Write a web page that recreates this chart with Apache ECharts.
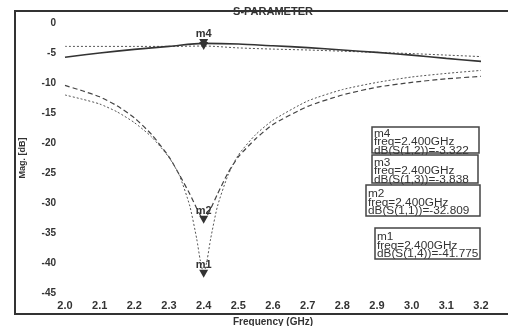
<!DOCTYPE html>
<html>
<head>
<meta charset="utf-8">
<script src="https://cdn.jsdelivr.net/npm/echarts@6/dist/echarts.min.js"></script>
<style>html,body{margin:0;padding:0;background:#fff;}#c{width:508px;height:326px;}</style>
</head>
<body>
<div id="c"></div>
<script>
// ---- data ----
var freqTop = [2.0, 2.1, 2.2, 2.3, 2.4, 2.5, 2.6, 2.7, 2.8, 2.9, 3.0, 3.1, 3.2];
var s12 = [-5.7, -5.0, -4.4, -3.9, -3.4, -3.5, -3.8, -4.1, -4.5, -4.9, -5.35, -5.9, -6.4];
var s13 = [-3.9, -3.9, -3.9, -3.9, -3.84, -4.15, -4.35, -4.5, -4.7, -4.9, -5.1, -5.35, -5.6];

var freqDip = [2.0, 2.05, 2.1, 2.15, 2.2, 2.25, 2.3, 2.33, 2.36, 2.38, 2.39, 2.4, 2.41, 2.42, 2.44, 2.47, 2.5, 2.55, 2.6, 2.7, 2.8, 2.9, 3.0, 3.1, 3.2];
var s11 = [-10.4, -11.3, -12.3, -13.8, -15.8, -18.6, -22.3, -25.3, -28.5, -30.9, -32.0, -32.8, -32.1, -31.0, -28.5, -25.0, -22.3, -19.3, -16.9, -13.9, -12.0, -10.7, -9.9, -9.3, -8.9];
var s14 = [-12.0, -12.7, -13.5, -14.8, -16.6, -19.0, -22.4, -25.4, -30.5, -36.0, -39.5, -41.775, -39.5, -36.0, -30.5, -25.4, -22.0, -18.6, -16.2, -13.0, -11.1, -9.9, -9.0, -8.4, -7.9];

var markerNames = ['m4', 'm3', 'm2', 'm1'];
var markerParams = ['S(1,2)', 'S(1,3)', 'S(1,1)', 'S(1,4)'];
var markerValues = [-3.322, -3.838, -32.809, -41.775];
var markerFreq = 2.4;

var chartTitle = 'S-PARAMETER';
var xName = 'Frequency (GHz)';
var yName = 'Mag. [dB]';

function pairs(xs, ys) { return xs.map(function (x, i) { return [x, ys[i]]; }); }

function mark(idx, showLabel) {
  return {
    symbol: 'triangle', symbolRotate: 180, symbolSize: [9, 8], symbolOffset: [0, 0],
    itemStyle: { color: '#333' },
    label: { show: showLabel, position: 'top', distance: -1, formatter: '{b}', color: '#333', fontSize: 11, fontWeight: 'bold', fontFamily: 'Liberation Sans' },
    data: [{ name: markerNames[idx], coord: [markerFreq, markerValues[idx]] }]
  };
}

// marker readout boxes (layout only)
var boxRects = [[372, 127, 107, 26], [372, 155, 106, 28], [366, 185, 114, 31], [375, 228, 105, 31]];
var boxGraphics = markerNames.map(function (n, i) {
  var r = boxRects[i];
  var txt = n + '\nfreq=' + markerFreq.toFixed(3) + 'GHz\ndB(' + markerParams[i] + ')=' + markerValues[i];
  return {
    type: 'group', x: r[0], y: r[1], z: 20,
    children: [
      { type: 'rect', shape: { x: 0, y: 0, width: r[2], height: r[3] }, style: { fill: '#fff', stroke: '#444', lineWidth: 1.5 } },
      { type: 'text', x: 2, y: (r[3] - 25.5) / 2 + 2.5, scaleX: 1.18,
        style: { text: txt, fill: '#333', font: '10px "Liberation Sans"', lineHeight: 8.5, verticalAlign: 'top', align: 'left' } }
    ]
  };
});

var chart = echarts.init(document.getElementById('c'));
chart.setOption({
  animation: false,
  backgroundColor: '#fff',
  graphic: [
    { type: 'rect', shape: { x: 15, y: 11, width: 520, height: 303 }, style: { fill: 'none', stroke: '#333', lineWidth: 2 }, z: 0 },
    { type: 'text', x: 273, y: 12, style: { text: chartTitle, fill: '#333', font: 'bold 11px "Liberation Sans"', align: 'center', verticalAlign: 'middle' }, z: 10 }
  ].concat(boxGraphics),
  grid: { left: 65, right: 27, top: 23, bottom: 33, containLabel: false, outerBoundsMode: 'none' },
  xAxis: {
    type: 'value', min: 2.0, max: 3.2, interval: 0.1,
    name: xName, nameLocation: 'middle', nameGap: 24,
    nameTextStyle: { fontSize: 10, fontWeight: 'bold', color: '#333', fontFamily: 'Liberation Sans' },
    axisLine: { show: false }, axisTick: { show: false }, splitLine: { show: false },
    axisLabel: { margin: 7, fontSize: 11, fontWeight: 'bold', color: '#333', fontFamily: 'Liberation Sans', formatter: function (v) { return v.toFixed(1); } }
  },
  yAxis: {
    type: 'value', min: -45, max: 0, interval: 5,
    name: yName, nameLocation: 'middle', nameGap: 38, nameRotate: 90,
    nameTextStyle: { fontSize: 9, fontWeight: 'bold', color: '#333', fontFamily: 'Liberation Sans' },
    axisLine: { show: false }, axisTick: { show: false }, splitLine: { show: false },
    axisLabel: { margin: 9, fontSize: 10, fontWeight: 'bold', color: '#333', fontFamily: 'Liberation Sans' }
  },
  series: [
    { name: 'S(1,3)', type: 'line', smooth: 0.3, symbol: 'none', data: pairs(freqTop, s13), lineStyle: { color: '#555', width: 1, type: [2, 2] }, markPoint: mark(1, false) },
    { name: 'S(1,2)', type: 'line', smooth: 0.3, symbol: 'none', data: pairs(freqTop, s12), lineStyle: { color: '#333', width: 1.6, type: 'solid' }, markPoint: mark(0, true) },
    { name: 'S(1,1)', type: 'line', smooth: 0.2, symbol: 'none', data: pairs(freqDip, s11), lineStyle: { color: '#444', width: 1.2, type: [5, 3] }, markPoint: mark(2, true) },
    { name: 'S(1,4)', type: 'line', smooth: 0.2, symbol: 'none', data: pairs(freqDip, s14), lineStyle: { color: '#555', width: 1, type: [2, 2] }, markPoint: mark(3, true) }
  ]
});
</script>
</body>
</html>
